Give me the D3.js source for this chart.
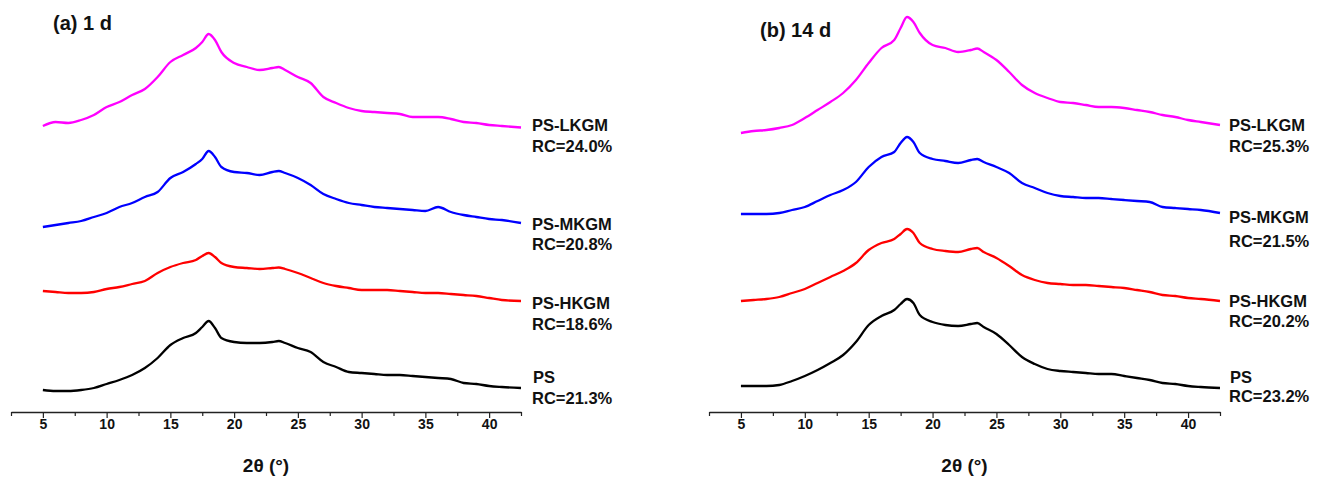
<!DOCTYPE html>
<html>
<head>
<meta charset="utf-8">
<script src="https://cdn.jsdelivr.net/npm/d3@7/dist/d3.min.js"></script>
<style>
  html, body { margin: 0; padding: 0; background: #fff; }
  svg { display: block; }
  text { font-family: "Liberation Sans", Arial, sans-serif; font-weight: bold; fill: #111; }
</style>
</head>
<body>
<svg id="chart" width="1322" height="477"></svg>
<script>
// 2θ sampling positions (degrees)
const theta = [5,6,7,8,9,10,11,12,13,14,15,16,17,17.5,18,18.5,19,20,21,22,23,23.5,24,25,26,27,28,29,30,31,32,33,34,35,36,37,38,39,40,41,42.5];

// Panel (a) 1 d — intensities (a.u., stacked offsets included)
const a_LKGM = [286,290,289,292,297,305,310,317,323,335,350,357,364,370,378,372,360,349,345,342,344,345,342,335,329,315,309,304,301,300,299,298,295,295,295,293,290,289,287,286,284.5];
const a_MKGM = [185,187,189,191,195,199,205,209,215,220,234,240,248,253,261,255,245,240,239,237,240,241,239,234,227,218,213,209,207,205,204,203,202,201,205,200,197,195,193,192,189];
const a_HKGM = [121,120,119,119,120,123,125,128,131,139,145,149,152,156,159,155,149,145,144,143,144,144.5,143,139,134,129,126,124,122,122,122,121,120,119,119,118,117,116,114,112,111];
const a_PS   = [22,21,21,22,24,28,32,37,44,54,67,74,79,85,91,84,74,70,69,69,70,71,69,64,60,50,45,40,39,38,37,37,36,35,34,33,29,28,26,25,24];

// Panel (b) 14 d
const b_LKGM = [279,281,282,284,287,294,302,310,319,332,349,364,372,384,395,390,379,367,364,360,362,363.5,360,352,340,327,319,314,310,309,307,305,305,304,302,300,297,295,292,290,287];
const b_MKGM = [198,198,198,199,202,205,211,217,222,230,245,255,260,269,275,270,259,253,251,249,252,253,250,245,239,229,224,219,216,215,214,214,213,212,211,210,205,204,203,202,199];
const b_HKGM = [111,112,113,115,119,123,129,135,141,149,162,169,173,178,183,179,169,163,161,160,163,164,160,154,146,137,132,129,128,127,127,126,125,124,122,120,117,116,114,113,111];
const b_PS   = [26,26,26,27,31,36,42,49,57,70,87,96,102,108,113,109,97,90,87,86,88,89,85,78,67,55,48,43,41,40,39,38,38,36,34,32,29,28,26,25,24];

const seriesNames = ["PS-LKGM","PS-MKGM","PS-HKGM","PS"];
const seriesColors = ["#ff00ff","#0000ff","#ff0000","#000000"];
const rcA = ["RC=24.0%","RC=20.8%","RC=18.6%","RC=21.3%"];
const rcB = ["RC=25.3%","RC=21.5%","RC=20.2%","RC=23.2%"];
const panelTitles = ["(a) 1 d","(b) 14 d"];
const majorTicks = [5,10,15,20,25,30,35,40];
const minorTicks = [2.5,7.5,12.5,17.5,22.5,27.5,32.5,37.5,42.5];
const xTitle = "2θ (°)";

const svg = d3.select("#chart");

const panels = [
  { title: panelTitles[0], data: [a_LKGM,a_MKGM,a_HKGM,a_PS], rc: rcA,
    range: [11, 521], titleX: 53, titleY: 30, labelX: 532,
    nameY: [131,230,309,383], rcY: [152,250,330,404] },
  { title: panelTitles[1], data: [b_LKGM,b_MKGM,b_HKGM,b_PS], rc: rcB,
    range: [709, 1220], titleX: 760, titleY: 37, labelX: 1229,
    nameY: [130.5,223,306.5,383], rcY: [151.5,246.5,326.5,401.5] }
];

const axisY = 412;
const y = d3.scaleLinear().domain([0, 400]).range([axisY, 12]);

panels.forEach(p => {
  const x = d3.scaleLinear().domain([2.5, 42.5]).range(p.range);
  const g = svg.append("g");

  const line = d3.line()
    .x((d, i) => x(theta[i]))
    .y(d => y(d))
    .curve(d3.curveMonotoneX);

  p.data.forEach((vals, k) => {
    g.append("path")
      .datum(vals)
      .attr("d", line)
      .attr("fill", "none")
      .attr("stroke", seriesColors[k])
      .attr("stroke-width", 2.3)
      .attr("stroke-linejoin", "round");
  });

  // minor ticks
  const minorAxis = d3.axisBottom(x).tickValues(minorTicks).tickSize(4).tickSizeOuter(0).tickFormat("");
  const gMin = g.append("g").attr("transform", `translate(0,${axisY})`).call(minorAxis);
  gMin.select(".domain").attr("stroke", "#222").attr("stroke-width", 1.4);
  gMin.selectAll(".tick line").attr("stroke", "#222").attr("stroke-width", 1.2);

  // major ticks
  const majorAxis = d3.axisBottom(x).tickValues(majorTicks).tickSize(6).tickSizeOuter(0).tickPadding(1).tickFormat(d3.format("d"));
  const gMaj = g.append("g").attr("transform", `translate(0,${axisY})`).call(majorAxis);
  gMaj.attr("font-size", null).attr("font-family", null);
  gMaj.select(".domain").remove();
  gMaj.selectAll(".tick line").attr("stroke", "#222").attr("stroke-width", 1.2);
  gMaj.selectAll(".tick text")
    .style("font-family", '"Liberation Sans", Arial, sans-serif')
    .style("font-weight", "bold")
    .style("font-size", "14px")
    .attr("fill", "#111");

  // axis title
  g.append("text")
    .attr("x", (p.range[0] + p.range[1]) / 2)
    .attr("y", 472)
    .attr("text-anchor", "middle")
    .style("font-size", "19px")
    .text(xTitle);

  // panel title
  g.append("text")
    .attr("x", p.titleX)
    .attr("y", p.titleY)
    .style("font-size", "20px")
    .text(p.title);

  // series labels
  seriesNames.forEach((name, k) => {
    g.append("text").attr("x", p.labelX + (k === 3 ? 1 : 0)).attr("y", p.nameY[k])
      .style("font-size", "16.5px").text(name);
    g.append("text").attr("x", p.labelX).attr("y", p.rcY[k])
      .style("font-size", "16.5px").text(p.rc[k]);
  });
});
</script>
</body>
</html>
